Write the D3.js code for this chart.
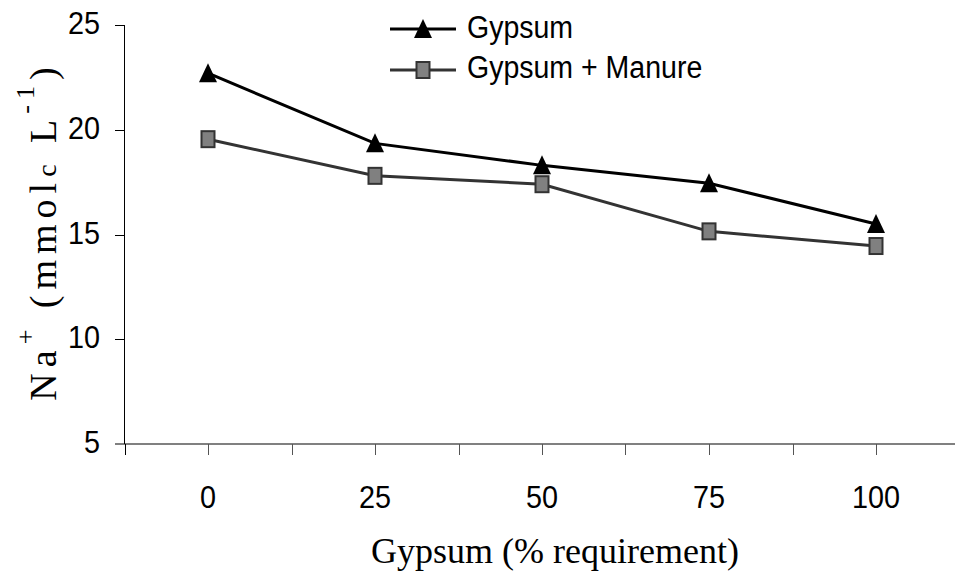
<!DOCTYPE html>
<html>
<head>
<meta charset="utf-8">
<script src="https://cdn.jsdelivr.net/npm/d3@7"></script>
<style>
  body { margin: 0; background: #fff; }
</style>
</head>
<body>
<svg id="chart" width="955" height="579"></svg>
<script>
'use strict';

// categories on the x axis
var categories = ['0', '25', '50', '75', '100'];
// Na+ values for each treatment
var gypsum = [22.7, 19.35, 18.3, 17.45, 15.5];
var gypsumManure = [19.55, 17.8, 17.4, 15.15, 14.45];
var yTicks = [5, 10, 15, 20, 25];
var seriesNames = ['Gypsum', 'Gypsum + Manure'];

var svg = d3.select('#chart');

var x = d3.scaleLinear().domain([-0.5, 4.5]).range([124.5, 959.5]);
var y = d3.scaleLinear().domain([5, 25]).range([444, 25]);

var sans = 'Liberation Sans, Arial, sans-serif';
var serif = 'Liberation Serif, Times New Roman, serif';

// x axis line (grey) + ticks every half category
svg.append('line')
  .attr('x1', 115).attr('x2', 955)
  .attr('y1', y(5)).attr('y2', y(5))
  .attr('stroke', '#808080').attr('stroke-width', 2);

var halfSteps = d3.range(-0.5, 4.01, 0.5);
svg.selectAll('.xtick').data(halfSteps)
  .enter().append('line')
  .attr('x1', function(d) { return Math.round(x(d)) + 0.5; })
  .attr('x2', function(d) { return Math.round(x(d)) + 0.5; })
  .attr('y1', y(5)).attr('y2', y(5) + 11)
  .attr('stroke', function(d) { return d === -0.5 ? '#000' : '#555'; })
  .attr('stroke-width', 1);

// y axis (black)
svg.append('line')
  .attr('x1', 124.5).attr('x2', 124.5)
  .attr('y1', y(25)).attr('y2', y(5))
  .attr('stroke', '#000').attr('stroke-width', 1);

svg.selectAll('.ytick').data(yTicks.slice(1))
  .enter().append('line')
  .attr('x1', 115).attr('x2', 124.5)
  .attr('y1', function(d) { return Math.round(y(d)) + 0.5; })
  .attr('y2', function(d) { return Math.round(y(d)) + 0.5; })
  .attr('stroke', '#000').attr('stroke-width', 1);

// tick labels (slightly condensed sans)
svg.selectAll('.ylab').data(yTicks)
  .enter().append('text')
  .attr('transform', function(d) { return 'translate(100,' + (y(d) + 9) + ') scale(0.9,1)'; })
  .attr('text-anchor', 'end')
  .attr('font-family', sans).attr('font-size', 32)
  .text(function(d) { return d; });

svg.selectAll('.xlab').data(categories)
  .enter().append('text')
  .attr('transform', function(d, i) { return 'translate(' + x(i) + ',508) scale(0.9,1)'; })
  .attr('text-anchor', 'middle')
  .attr('font-family', sans).attr('font-size', 32)
  .text(function(d) { return d; });

// axis titles
svg.append('text')
  .attr('x', 555).attr('y', 563)
  .attr('text-anchor', 'middle')
  .attr('font-family', serif).attr('font-size', 36)
  .text('Gypsum (%  requirement)');

var yTitle = svg.append('text')
  .attr('transform', 'translate(56,231) rotate(-90)')
  .attr('text-anchor', 'middle')
  .attr('font-family', serif).attr('font-size', 38)
  .attr('letter-spacing', 6);
yTitle.append('tspan').text('Na');
yTitle.append('tspan').attr('dy', -22).attr('font-size', 26).text('+');
yTitle.append('tspan').attr('dy', 22).text(' (mmol');
yTitle.append('tspan').attr('font-size', 28).text('c');
yTitle.append('tspan').text(' L');
yTitle.append('tspan').attr('dy', -22).attr('font-size', 26).text('-1');
yTitle.append('tspan').attr('dy', 22).text(')');

// series
var line = d3.line()
  .x(function(d, i) { return x(i); })
  .y(function(d) { return y(d); });

svg.append('path').datum(gypsumManure)
  .attr('d', line).attr('fill', 'none')
  .attr('stroke', '#333').attr('stroke-width', 3);

svg.append('path').datum(gypsum)
  .attr('d', line).attr('fill', 'none')
  .attr('stroke', '#000').attr('stroke-width', 3);

var tri = function(cx, cy) {
  return 'M' + cx + ',' + (cy - 10) + 'L' + (cx + 9) + ',' + (cy + 9) + 'L' + (cx - 9) + ',' + (cy + 9) + 'Z';
};

svg.selectAll('.sq').data(gypsumManure)
  .enter().append('rect')
  .attr('x', function(d, i) { return x(i) - 6.5; })
  .attr('y', function(d) { return y(d) - 8; })
  .attr('width', 13).attr('height', 16)
  .attr('fill', '#808080').attr('stroke', '#333').attr('stroke-width', 2);

svg.selectAll('.tri').data(gypsum)
  .enter().append('path')
  .attr('d', function(d, i) { return tri(x(i), y(d)); })
  .attr('fill', '#000');

// legend
var legend = svg.append('g');
legend.append('line').attr('x1', 390).attr('x2', 456).attr('y1', 29).attr('y2', 29)
  .attr('stroke', '#000').attr('stroke-width', 3);
legend.append('path').attr('d', tri(423, 29)).attr('fill', '#000');
legend.append('line').attr('x1', 390).attr('x2', 456).attr('y1', 70).attr('y2', 70)
  .attr('stroke', '#333').attr('stroke-width', 3);
legend.append('rect').attr('x', 416.5).attr('y', 62).attr('width', 13).attr('height', 16)
  .attr('fill', '#808080').attr('stroke', '#333').attr('stroke-width', 2);

legend.selectAll('.ltext').data(seriesNames)
  .enter().append('text')
  .attr('transform', function(d, i) { return 'translate(467,' + (38 + i * 40) + ') scale(0.92,1)'; })
  .attr('font-family', sans).attr('font-size', 31)
  .text(function(d) { return d; });
</script>
</body>
</html>
